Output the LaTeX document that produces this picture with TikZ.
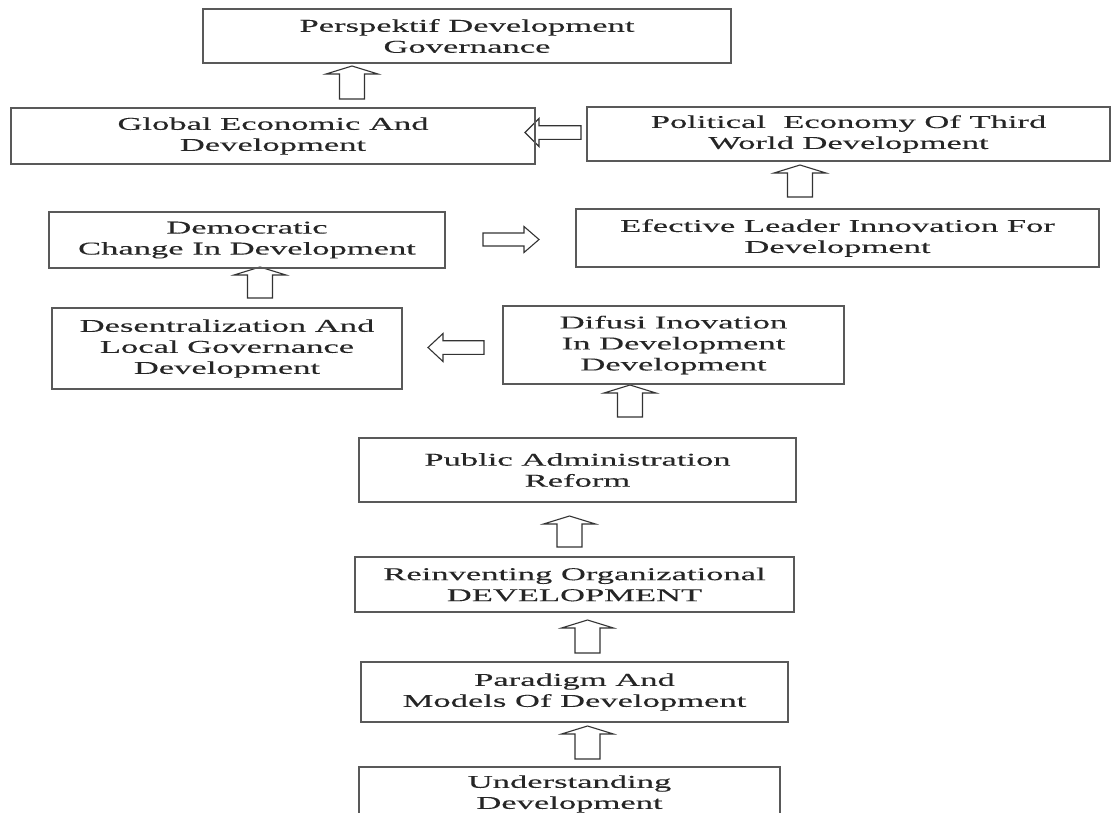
\documentclass[tikz,border=0pt]{standalone}
\usepackage{fontspec}
\setmainfont{Liberation Serif}[FakeStretch=1.92,FakeBold=0.15]
\newcommand\UpArr[4]{% centre x, tip y, head-base y, bottom y
  \draw[barrow] (#1-26,#3) -- (#1,#2) -- (#1+26,#3) -- (#1+12.5,#3) -- (#1+12.5,#4)
    -- (#1-12.5,#4) -- (#1-12.5,#3) -- cycle;}
\newcommand\LeftArr[4]{% centre y, tip x, head-back x, right end x
  \draw[barrow] (#3,#1-14) -- (#2,#1) -- (#3,#1+14) -- (#3,#1+6.8) -- (#4,#1+6.8)
    -- (#4,#1-6.8) -- (#3,#1-6.8) -- cycle;}
\newcommand\RightArr[4]{% centre y, tip x, head-back x, left end x
  \draw[barrow] (#3,#1-13) -- (#2,#1) -- (#3,#1+13) -- (#3,#1+6.5) -- (#4,#1+6.5)
    -- (#4,#1-6.5) -- (#3,#1-6.5) -- cycle;}
\begin{document}
\begin{tikzpicture}[x=1pt,y=-1pt,
  box/.style={draw=black!65,line width=1.4pt,inner sep=0pt,align=center,
    text=black!85,font=\fontsize{18}{21}\selectfont},
  barrow/.style={draw=black!80,line width=1.1pt,line join=miter}]
\useasboundingbox (0,0) rectangle (1113,812);
\clip (0,0) rectangle (1113,812);
\fill[white] (0,0) rectangle (1113,812);

% arrows (drawn first so box borders stay on top)
\UpArr{352}{66}{74}{99}
\LeftArr{132.5}{525}{539}{581}
\UpArr{800}{165}{173}{197}
\RightArr{239.5}{539}{524}{483}
\UpArr{260}{267}{275}{298}
\LeftArr{347.5}{428}{443}{484}
\UpArr{630}{385}{393}{417}
\UpArr{569.5}{516}{524}{547}
\UpArr{587.5}{620}{628}{653}
\UpArr{587.5}{726}{734}{759}

% boxes
\node[box,minimum width=528pt,minimum height=54pt] (persp) at (467,36)
  {Perspektif Development\\Governance};
\node[box,minimum width=524pt,minimum height=56pt] (glob) at (273,136)
  {Global Economic And\\Development};
\node[box,minimum width=523pt,minimum height=54pt] (polit) at (848.5,134)
  {Political~~Economy Of Third\\World Development};
\node[box,minimum width=523pt,minimum height=58pt] (efect) at (837.5,238)
  {Efective Leader Innovation For\\Development};
\node[box,minimum width=396pt,minimum height=56pt] (democ) at (247,240)
  {Democratic\\Change In Development};
\node[box,minimum width=350pt,minimum height=81pt] (desen) at (227,348.5)
  {Desentralization And\\Local Governance\\Development};
\node[box,minimum width=341pt,minimum height=78pt] (difusi) at (673.5,345)
  {Difusi Inovation\\In Development\\Development};
\node[box,minimum width=437pt,minimum height=64pt] (public) at (577.5,470)
  {Public Administration\\Reform};
\node[box,minimum width=439pt,minimum height=55pt] (reinv) at (574.5,584.5)
  {Reinventing Organizational\\DEVELOPMENT};
\node[box,minimum width=427pt,minimum height=60pt] (parad) at (574.5,692)
  {Paradigm And\\Models Of Development};
\node[box,minimum width=421pt,minimum height=54pt] (under) at (569.5,794)
  {Understanding\\Development};
\end{tikzpicture}
\end{document}
